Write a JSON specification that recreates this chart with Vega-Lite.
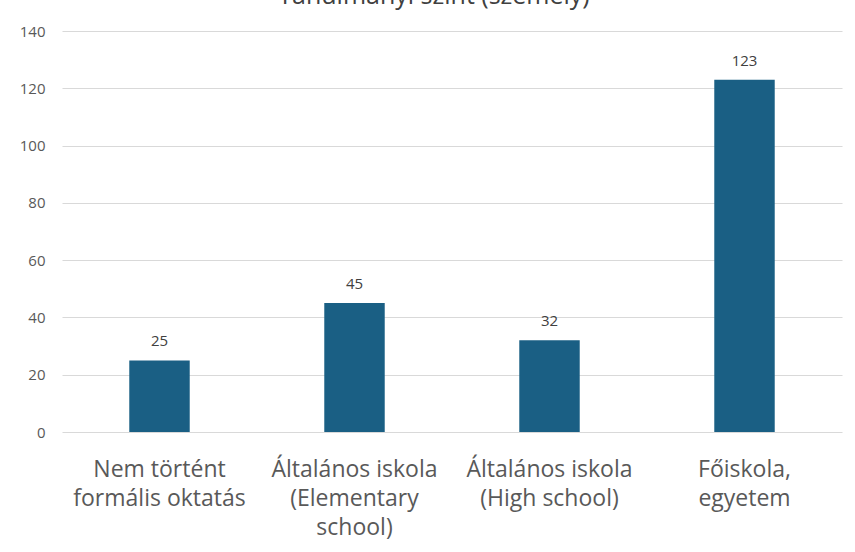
{
  "$schema": "https://vega.github.io/schema/vega-lite/v6.json",
  "width": 780,
  "height": 401,
  "autosize": {"type": "none"},
  "padding": {"left": 62, "top": 31, "right": 13, "bottom": 120},
  "background": "white",
  "title": {
    "text": "Tanulmányi szint (személy)",
    "fontSize": 25,
    "font": "Open Sans",
    "fontWeight": "normal",
    "color": "#404040",
    "anchor": "middle",
    "frame": "group",
    "baseline": "alphabetic",
    "offset": -5,
    "dx": -18
  },
  "data": {
    "values": [
      {"kategoria": "Nem történt|formális oktatás", "szemely": 25},
      {"kategoria": "Általános iskola|(Elementary|school)", "szemely": 45},
      {"kategoria": "Általános iskola|(High school)", "szemely": 32},
      {"kategoria": "Főiskola,|egyetem", "szemely": 123}
    ]
  },
  "encoding": {
    "x": {
      "field": "kategoria",
      "type": "nominal",
      "sort": null,
      "scale": {"paddingInner": 0.69, "paddingOuter": 0.345},
      "axis": {
        "title": null,
        "labelAngle": 0,
        "labelExpr": "split(datum.label, '|')",
        "labelFont": "Open Sans",
        "labelFontSize": 23,
        "labelColor": "#595959",
        "labelLineHeight": 29,
        "labelPadding": 44,
        "labelLimit": 0,
        "labelOverlap": false,
        "labelBaseline": "alphabetic",
        "ticks": false,
        "domain": false,
        "grid": false
      }
    },
    "y": {
      "field": "szemely",
      "type": "quantitative",
      "scale": {"domain": [0, 140]},
      "axis": {
        "title": null,
        "values": [0, 20, 40, 60, 80, 100, 120, 140],
        "labelFont": "Open Sans",
        "labelFontSize": 15,
        "labelColor": "#595959",
        "labelPadding": 17,
        "ticks": false,
        "domain": false,
        "gridColor": "#d9d9d9",
        "gridWidth": 1
      }
    }
  },
  "layer": [
    {"mark": {"type": "bar", "color": "#1a5f84"}},
    {
      "mark": {
        "type": "text",
        "baseline": "alphabetic",
        "dy": -14,
        "font": "Open Sans",
        "fontSize": 15,
        "color": "#404040"
      },
      "encoding": {"text": {"field": "szemely", "type": "quantitative"}}
    }
  ],
  "config": {"view": {"stroke": null}}
}
